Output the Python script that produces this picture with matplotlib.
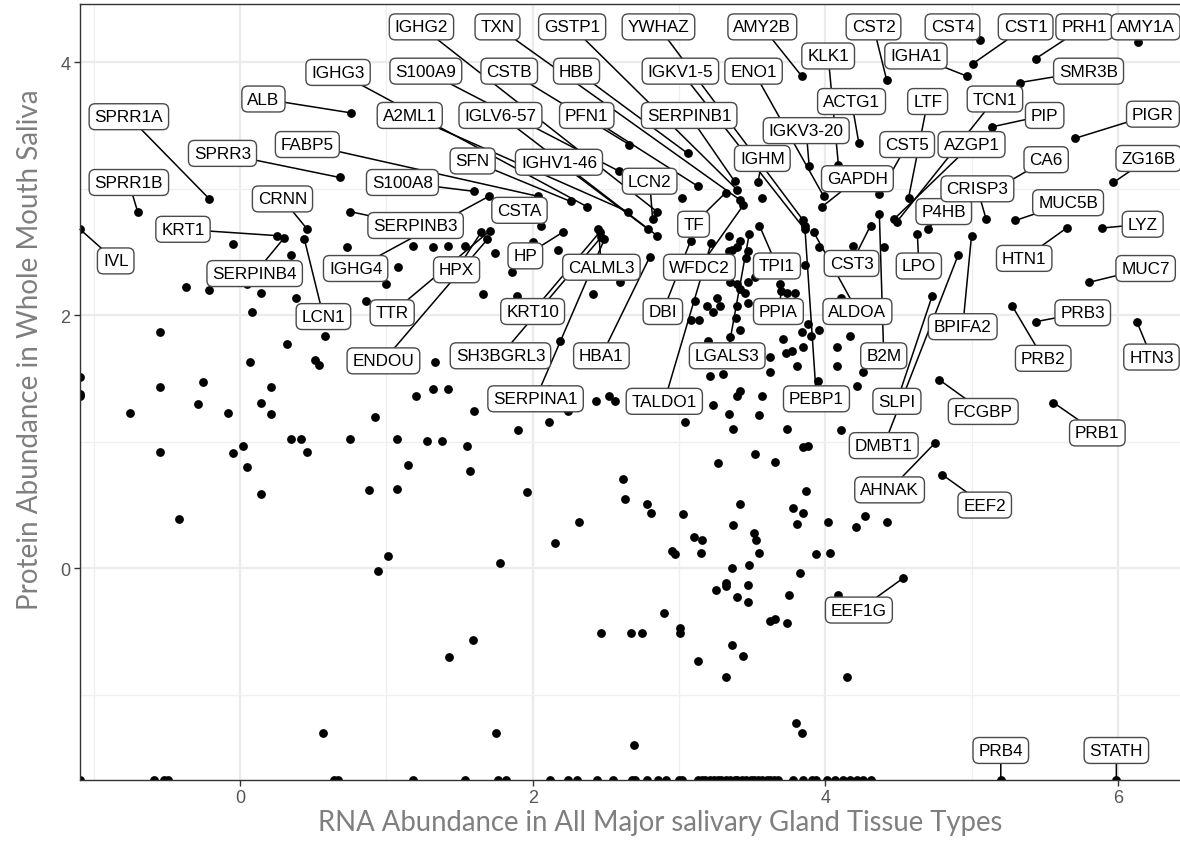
import numpy as np
import matplotlib
matplotlib.use("Agg")
import matplotlib.pyplot as plt

NEG = -np.inf  # values drawn at the panel edge (like -Inf in ggplot)

# ---------------- labelled genes ----------------
genes = ["SPRR1A", "SPRR1B", "IVL", "KRT1", "SERPINB4", "CRNN", "LCN1", "ALB", "SPRR3",
         "FABP5", "S100A8", "SERPINB3", "IGHG4", "CSTA", "IGHG3", "SFN", "A2ML1", "IGHG2",
         "LCN2", "IGHV1-46", "IGLV6-57", "HBA1", "S100A9", "CSTB", "HBB", "PFN1", "TXN",
         "GSTP1", "SERPINB1", "WFDC2", "TF", "YWHAZ", "IGKV1-5", "PEBP1", "AMY2B", "ENO1",
         "IGKV3-20", "KLK1", "GAPDH", "IGHM", "TPI1", "DBI", "TALDO1", "LGALS3", "PPIA",
         "ALDOA", "B2M", "CST3", "CST5", "LTF", "TCN1", "AZGP1", "LPO", "P4HB", "BPIFA2",
         "DMBT1", "SLPI", "CRISP3", "CA6", "MUC5B", "HTN1", "LYZ", "MUC7", "ZG16B", "PIGR",
         "PIP", "SMR3B", "PRH1", "AMY1A", "CST4", "CST1", "IGHA1", "CST2", "ACTG1", "PRB2",
         "PRB3", "HTN3", "FCGBP", "PRB1", "AHNAK", "EEF2", "EEF1G", "PRB4", "STATH", "HPX",
         "TTR", "ENDOU", "HP", "CALML3", "KRT10", "SH3BGRL3", "SERPINA1"]
gene_rna = [-0.21, -0.70, NEG, 0.25, 0.30, 0.46, 0.44, 0.76, 0.68,
            2.04, 1.60, 0.75, 1.70, 2.06, 2.37, 2.26, 2.65, 2.85,
            2.82, 2.79, 2.85, 2.80, 2.59, 2.66, 3.06, 3.13, 3.42,
            3.40, 3.38, 3.44, 3.32, 3.85, 3.86, 3.86, 3.84, 3.99,
            3.89, 4.09, 3.98, 3.54, 3.55, 3.08, 3.22, 3.48, 3.70,
            3.92, 4.37, 4.31, 4.37, 4.57, 4.49, 4.47, 4.63, 4.70, 5.00,
            4.91, 4.73, 5.10, 5.23, 5.30, 5.65, 5.89, 5.80, 5.97, 5.71,
            5.14, 5.33, 5.44, 6.14, 5.06, 5.01, 4.97, 4.42, 4.23, 5.28,
            5.44, 6.13, 4.78, 5.56, 4.75, 4.80, 4.53, 5.20, 5.99, 1.65,
            1.71, 1.69, 2.21, 2.45, 2.46, 2.47, 2.49]
gene_protein = [2.92, 2.82, 2.68, 2.63, 2.61, 2.68, 2.60, 3.60, 3.09,
                2.94, 2.98, 2.82, 2.94, 2.71, 2.86, 2.90, 2.82, 2.82,
                2.76, 2.68, 2.63, 2.46, 3.14, 3.35, 3.28, 3.02, 2.91,
                2.99, 3.06, 2.87, 2.97, 2.75, 2.68, 2.71, 3.89, 2.94,
                3.18, 3.19, 2.86, 3.05, 2.71, 2.59, 2.57, 2.64, 2.19,
                2.66, 2.80, 2.71, 2.96, 2.93, 2.74, 2.76, 2.64, 2.68, 2.63,
                2.48, 2.15, 2.76, 3.04, 2.75, 2.69, 2.69, 2.26, 3.05, 3.40,
                3.49, 3.84, 4.03, 4.16, 4.18, 3.99, 3.89, 3.86, 3.36, 2.07,
                1.95, 1.95, 1.49, 1.31, 0.99, 0.74, -0.08, NEG, NEG, 2.66,
                2.67, 2.60, 2.66, 2.68, 2.66, 2.62, 2.60]
# where each label box sits (repelled label placement)
label_rna = [-0.76, -0.76, -0.85, -0.39, 0.10, 0.29, 0.57, 0.16, -0.12,
             0.46, 1.11, 1.20, 0.79, 1.91, 0.67, 1.59, 1.16, 1.24,
             2.80, 2.18, 1.78, 2.47, 1.27, 1.84, 2.30, 2.37, 1.76,
             2.27, 3.07, 3.14, 3.10, 2.86, 3.01, 3.94, 3.57, 3.51,
             3.87, 4.02, 4.22, 3.57, 3.67, 2.89, 2.90, 3.33, 3.68,
             4.22, 4.40, 4.18, 4.56, 4.70, 5.16, 5.00, 4.64, 4.81, 4.94,
             4.40, 4.49, 5.04, 5.51, 5.66, 5.36, 6.17, 6.19, 6.21, 6.24,
             5.50, 5.80, 5.77, 6.19, 4.87, 5.37, 4.62, 4.33, 4.18, 5.49,
             5.76, 6.23, 5.08, 5.86, 4.44, 5.09, 4.23, 5.20, 5.99, 1.48,
             1.04, 0.98, 1.95, 2.47, 2.00, 1.78, 2.02]
label_protein = [3.57, 3.05, 2.43, 2.68, 2.33, 2.92, 1.99, 3.71, 3.28,
                 3.35, 3.05, 2.71, 2.37, 2.83, 3.92, 3.22, 3.58, 4.28,
                 3.06, 3.21, 3.58, 1.68, 3.93, 3.93, 3.93, 3.58, 4.28,
                 4.28, 3.58, 2.38, 2.72, 4.28, 3.93, 1.34, 4.28, 3.93,
                 3.46, 4.05, 3.08, 3.24, 2.39, 2.03, 1.32, 1.68, 2.03,
                 2.03, 1.68, 2.41, 3.35, 3.69, 3.71, 3.35, 2.39, 2.82, 1.91,
                 0.97, 1.32, 3.00, 3.23, 2.89, 2.45, 2.72, 2.37, 3.24, 3.59,
                 3.58, 3.93, 4.28, 4.28, 4.28, 4.28, 4.05, 4.28, 3.69, 1.66,
                 2.02, 1.67, 1.24, 1.07, 0.62, 0.50, -0.33, -1.44, -1.44, 2.36,
                 2.02, 1.64, 2.47, 2.38, 2.03, 1.68, 1.34]

# ---------------- unlabelled genes ----------------
other_rna = [
    -0.05, 0.35, 0.73, -0.37, -0.21, 0.05, 0.14, 0.38, 0.08, 0.86, 1.00, -0.55, 0.58, 0.32,
    0.07, 0.51, 0.54, NEG, NEG, NEG, -0.55, -0.25, -0.29, -0.75, -0.08, 0.14, 0.21, 0.21,
    0.92, 0.35, 0.42, 0.75, 1.07, -0.55, -0.05, 0.02, 0.46, 0.05, 0.14, 0.88, 1.07, -0.42,
    1.01, 0.94, 0.57,
    1.18, 1.32, 1.42, 1.54, 1.08, 1.74, 2.00, 2.17, 1.86, 1.66, 1.89, 2.41, 2.60, 3.02,
    3.57, 3.34, 3.42, 3.36, 3.40, 3.47, 3.46, 3.34, 3.96, 4.19, 4.40, 3.86, 3.35, 3.40,
    3.47, 3.52, 3.42, 3.45, 4.11, 3.69, 3.74, 3.79,
    2.19, 1.33, 1.32, 1.42, 1.20, 1.60, 1.28, 1.38, 1.55, 1.90, 2.11, 2.24, 2.11, 2.43,
    2.52, 2.56, 3.04, 3.23, 3.34, 3.37, 3.42, 3.40, 3.57, 3.55, 3.62, 3.62, 3.21, 3.30,
    3.20, 3.35, 3.42, 3.39, 3.40, 3.28, 3.19, 3.23, 3.08, 3.14, 3.11, 3.26, 3.47,
    3.71, 3.84, 3.90, 3.96, 3.88, 3.85, 3.73, 3.77, 3.81, 4.08, 4.17, 4.08, 3.95, 4.26,
    4.22, 3.74, 4.11, 3.85, 3.88, 3.87, 3.78, 3.85, 3.81, 4.02, 4.21, 4.27, 4.42, 3.94,
    4.03, 3.83, 3.75, 3.74, 4.09, 4.15, 3.80, 3.84,
    1.15, 1.57, 1.96, 2.62, 2.63, 2.78, 2.81, 3.03, 2.32, 3.27, 3.52, 3.66, 3.42, 3.37,
    3.51, 3.53, 3.10, 3.16, 3.15, 2.95, 2.97, 3.55, 2.15, 1.78, 3.36, 3.48,
    3.32, 3.32, 3.25, 3.47, 3.40, 3.47, 2.90, 2.47, 2.67, 2.75, 3.01, 3.01, 3.62, 3.66,
    1.59, 1.43, 3.36, 3.44, 3.13, 3.32, 1.75, 2.69,
    # proteins not detected in saliva (drawn on the bottom edge)
    NEG, -0.59, -0.52, -0.49, 0.64, 0.67, 1.18, 1.54, 1.76, 1.82, 2.12, 2.24, 2.30, 2.44,
    2.55, 2.68, 2.70, 2.78, 2.86, 2.91, 3.00, 3.02, 3.13, 3.16, 3.18, 3.21, 3.24, 3.27,
    3.29, 3.32, 3.35, 3.38, 3.40, 3.43, 3.46, 3.49, 3.51, 3.54, 3.57, 3.60, 3.62, 3.65,
    3.68, 3.78, 3.85, 3.91, 3.94, 4.01, 4.07, 4.12, 4.17, 4.22, 4.26, 4.31]
other_protein = [
    2.56, 2.48, 2.54, 2.22, 2.20, 2.25, 2.18, 2.14, 2.03, 2.11, 2.25, 1.87, 1.84, 1.77,
    1.63, 1.65, 1.61, 1.51, 1.38, 1.36, 1.43, 1.47, 1.30, 1.23, 1.23, 1.31, 1.43, 1.22,
    1.20, 1.02, 1.02, 1.02, 1.02, 0.92, 0.91, 0.97, 0.92, 0.80, 0.59, 0.62, 0.63, 0.39,
    0.10, -0.02, -1.30,
    2.55, 2.54, 2.55, 2.55, 2.38, 2.49, 2.58, 2.52, 2.34, 2.17, 2.15, 2.17, 2.26, 2.93,
    2.93, 2.63, 2.59, 2.52, 2.54, 2.51, 2.45, 2.51, 2.54, 2.55, 2.54, 2.40, 2.26, 2.25,
    2.26, 2.30, 2.21, 2.18, 2.14, 2.25, 2.18, 2.18,
    1.80, 1.63, 1.42, 1.42, 1.36, 1.24, 1.01, 1.01, 0.97, 1.09, 1.16, 1.24, 1.42, 1.32,
    1.36, 1.32, 1.16, 1.29, 1.22, 1.10, 1.40, 1.36, 1.36, 1.21, 1.67, 1.55, 1.52, 1.54,
    1.80, 1.83, 1.88, 1.98, 2.07, 2.07, 2.07, 2.03, 1.96, 1.96, 2.11, 2.14, 2.10,
    1.81, 1.87, 1.84, 1.88, 1.93, 1.75, 1.70, 1.72, 1.60, 1.75, 1.84, 1.60, 1.48, 1.55,
    1.44, 1.10, 1.09, 0.96, 0.97, 0.61, 0.48, 0.44, 0.35, 0.37, 0.33, 0.41, 0.37, 0.11,
    0.12, -0.04, -0.21, -0.43, -0.21, -0.86, -1.22, -1.30,
    0.82, 0.77, 0.60, 0.71, 0.55, 0.51, 0.44, 0.43, 0.37, 0.83, 0.90, 0.84, 0.51, 0.34,
    0.28, 0.22, 0.25, 0.22, 0.12, 0.14, 0.11, 0.12, 0.20, 0.04, 0.00, 0.03,
    -0.12, -0.14, -0.17, -0.13, -0.23, -0.27, -0.35, -0.51, -0.51, -0.51, -0.47, -0.51,
    -0.42, -0.40, -0.57, -0.70, -0.61, -0.69, -0.73, -0.86, -1.30, -1.40,
    NEG, NEG, NEG, NEG, NEG, NEG, NEG, NEG, NEG, NEG, NEG, NEG, NEG, NEG,
    NEG, NEG, NEG, NEG, NEG, NEG, NEG, NEG, NEG, NEG, NEG, NEG, NEG, NEG,
    NEG, NEG, NEG, NEG, NEG, NEG, NEG, NEG, NEG, NEG, NEG, NEG, NEG, NEG,
    NEG, NEG, NEG, NEG, NEG, NEG, NEG, NEG, NEG, NEG, NEG, NEG]

x_ticks = [0, 2, 4, 6]
y_ticks = [0, 2, 4]
x_title = "RNA Abundance in All Major salivary Gland Tissue Types"
y_title = "Protein Abundance in Whole Mouth Saliva"

# ---------------- figure ----------------
W, H = 1180, 845
fig = plt.figure(figsize=(W / 100, H / 100), dpi=100)
ax = fig.add_axes([80 / W, 1 - 780.7 / H, 1 - 80 / W, (780.7 - 5) / H])
XLIM = (-1.094, 6.425)
YLIM = (-1.671, 4.461)
ax.set_xlim(*XLIM)
ax.set_ylim(*YLIM)


def edge(v, lim):
    v = np.asarray(v, dtype=float)
    return np.where(np.isneginf(v), lim[0], v)


ox, oy = edge(other_rna, XLIM), edge(other_protein, YLIM)
gx, gy = edge(gene_rna, XLIM), edge(gene_protein, YLIM)

ax.scatter(np.concatenate([ox, gx]), np.concatenate([oy, gy]), s=40, c="black",
           linewidths=0, zorder=2, clip_on=True)

ax.set_xticks(x_ticks)
ax.set_yticks(y_ticks)
ax.set_xticks([-1, 1, 3, 5], minor=True)
ax.set_yticks([-1, 1, 3], minor=True)
ax.grid(which="major", color="#EBEBEB", lw=1.6, zorder=0)
ax.grid(which="minor", color="#EFEFEF", lw=0.9, zorder=0)
ax.set_axisbelow(True)
for s in ["left", "bottom", "top"]:
    ax.spines[s].set_color("#333333")
    ax.spines[s].set_linewidth(1.0)
ax.spines["right"].set_visible(False)
ax.tick_params(which="major", direction="out", length=4, width=1, color="#333333",
               labelsize=13, labelcolor="#555555", pad=3)
ax.tick_params(which="minor", length=0)
for t in ax.get_xticklabels() + ax.get_yticklabels():
    t.set_family("Liberation Sans")

LBL = dict(fontsize=12.3, family="Liberation Sans", ha="center", va="center")
BOX = "round,pad=0.32,rounding_size=0.35"
# segments first (under every label)
for name, px, py, lx, ly in zip(genes, gx, gy, label_rna, label_protein):
    ax.annotate(name, xy=(px, py), xytext=(lx, ly), color=(0, 0, 0, 0),
                bbox=dict(boxstyle=BOX, fc="none", ec="none", lw=1.0),
                arrowprops=dict(arrowstyle="-", color="black", lw=1.1,
                                shrinkA=0, shrinkB=0),
                zorder=2.5, annotation_clip=False, **LBL)
# then labels on top
for name, lx, ly in zip(genes, label_rna, label_protein):
    ax.text(lx, ly, name, color="black", zorder=3,
            bbox=dict(boxstyle=BOX, fc="white", ec="#4A4A4A", lw=1.0), **LBL)

fig.text(660 / W, 1 - 823 / H, x_title, ha="center", va="center", fontsize=19.8,
         color="#7F7F7F", family="Lato")
fig.text(30 / W, 1 - 350 / H, y_title, ha="center", va="center", fontsize=20,
         color="#7F7F7F", family="Lato", rotation=90)

fig.savefig("out.png", dpi=100)
